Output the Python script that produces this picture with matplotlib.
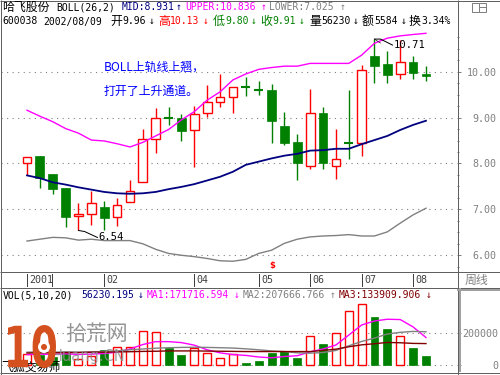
import matplotlib
matplotlib.use('Agg')
import matplotlib.pyplot as plt
import numpy as np
from matplotlib.patches import Rectangle, PathPatch
from matplotlib.textpath import TextPath
from matplotlib.font_manager import FontProperties
from matplotlib.transforms import Affine2D, blended_transform_factory
from matplotlib.ticker import MultipleLocator, FixedLocator

# ---------------- data ----------------
opens  = [8.00, 8.17, 7.76, 7.47, 6.85, 6.91, 7.05, 6.83, 7.16, 7.59, 8.54, 9.00, 8.98, 8.72, 9.09, 9.33,
          9.44, 9.66, 9.59, 9.60, 8.82, 8.47, 7.94, 9.10, 7.94, 8.45, 8.45, 10.34, 10.17, 9.94, 10.20, 9.96]
closes = [8.15, 7.69, 7.44, 6.83, 6.90, 7.14, 6.82, 7.10, 7.40, 8.53, 9.00, 9.00, 8.71, 9.07, 9.33, 9.44,
          9.66, 9.66, 9.59, 8.93, 8.45, 8.02, 9.10, 8.00, 8.10, 8.45, 10.03, 10.13, 9.93, 10.20, 9.98, 9.91]
highs  = [8.15, 8.17, 7.76, 7.47, 7.13, 7.39, 7.19, 7.24, 7.64, 8.75, 9.20, 9.22, 9.07, 9.26, 9.72, 9.95,
          9.66, 9.88, 9.80, 9.73, 9.13, 8.64, 9.62, 9.23, 8.75, 9.60, 10.15, 10.71, 10.45, 10.70, 10.34, 10.13]
lows   = [7.75, 7.47, 7.33, 6.62, 6.54, 6.67, 6.56, 6.64, 7.16, 7.59, 8.22, 8.83, 8.50, 7.92, 9.02, 9.24,
          9.11, 9.46, 9.49, 8.44, 8.40, 7.63, 7.87, 7.89, 7.67, 8.09, 8.16, 9.76, 9.76, 9.83, 9.83, 9.80]

boll_upper = [9.16, 9.03, 8.91, 8.76, 8.66, 8.51, 8.49, 8.43, 8.36, 8.46, 8.60, 8.74, 8.95, 9.13, 9.38, 9.56,
              9.82, 9.95, 10.05, 10.09, 10.12, 10.12, 10.18, 10.18, 10.18, 10.18, 10.36, 10.62, 10.73, 10.78, 10.81, 10.836]
boll_mid   = [7.74, 7.68, 7.59, 7.54, 7.48, 7.43, 7.38, 7.35, 7.34, 7.35, 7.38, 7.44, 7.49, 7.55, 7.63, 7.71,
              7.82, 7.97, 8.04, 8.11, 8.17, 8.21, 8.28, 8.29, 8.32, 8.32, 8.42, 8.51, 8.60, 8.73, 8.84, 8.931]
boll_lower = [6.31, 6.35, 6.39, 6.38, 6.33, 6.35, 6.32, 6.32, 6.32, 6.25, 6.13, 6.04, 6.00, 5.97, 5.93, 5.88,
              5.87, 5.91, 6.04, 6.11, 6.26, 6.35, 6.40, 6.42, 6.43, 6.45, 6.42, 6.42, 6.51, 6.70, 6.88, 7.025]

vols = [70000, 60000, 50000, 75000, 40000, 55000, 95000, 114000, 112000, 212000, 204000, 108000, 62000, 107000,
        77000, 41000, 70000, 11000, 25000, 76000, 85000, 45000, 180000, 131000, 199000, 336000, 380000, 298000,
        226000, 179000, 106000, 56230]
vol_ma1 = [65000, 68000, 66000, 70000, 66000, 68000, 72000, 80000, 100000, 128000, 146000, 146000, 140000, 124000,
           95000, 76000, 65000, 60000, 50000, 45000, 53000, 58000, 82000, 100000, 125000, 187000, 250000, 275000,
           286000, 284000, 238000, 171717]
vol_ma2 = [80000, 82000, 80000, 82000, 80000, 82000, 85000, 88000, 95000, 100000, 105000, 108000, 110000, 111000,
           110000, 108000, 106000, 101000, 95000, 88000, 84000, 76000, 74000, 78000, 91000, 120000, 147000, 168000,
           194000, 204000, 210000, 207667]
vol_ma3 = [75000, 76000, 76000, 78000, 78000, 80000, 80000, 82000, 83000, 85000, 86000, 88000, 88000, 88000,
           87000, 86000, 85000, 84000, 84000, 84000, 84000, 84000, 84000, 91000, 99000, 114000, 126000, 133000,
           141000, 139000, 135000, 133910]

price_ticks = [6, 7, 8, 9, 10]
vol_ticks = [0, 200000]
time_labels = ['2001', '02', '04', '05', '06', '07', '08']
time_label_idx = [0, 6, 13, 18, 22, 26, 30]

# ---------------- style ----------------
W, H = 500, 375
RED = '#ff0000'
GREEN = '#008000'
NAVY = '#000080'
MAG = '#ff00ff'
GRAY = '#808080'
DRED = '#800000'
MONO = ['DejaVu Sans Mono', 'Noto Sans CJK SC']
CJK = ['Noto Sans CJK SC', 'DejaVu Sans']
MS = 7.0   # mono size
CS = 8.6   # cjk size
PX = 0.72  # one pixel in points

fig = plt.figure(figsize=(W / 100, H / 100), dpi=100)
fig.patch.set_facecolor('white')

step = 12.87
x0px = 27.0
xl = ((1 - x0px) / step, (457 - x0px) / step)

# ---------------- main price panel ----------------
ax = fig.add_axes([1 / W, 1 - 270 / H, 456 / W, 240 / H])
ppu = 45.9
ax.set_xlim(*xl)
ax.set_ylim(10 - (270 - 71.67) / ppu, 10 + (71.67 - 30) / ppu)
for s in ax.spines.values():
    s.set_visible(False)
ax.set_xticks([])
ax.yaxis.tick_right()
ax.yaxis.set_major_locator(FixedLocator(price_ticks))
ax.yaxis.set_minor_locator(MultipleLocator(0.25))
ax.set_yticklabels([f'{v:.2f}' for v in price_ticks])
ax.tick_params(axis='y', which='major', length=3, width=PX, color=GRAY, direction='out',
               pad=25.5, labelsize=7.2, labelcolor=GRAY)
ax.tick_params(axis='y', which='minor', length=1.5, width=PX, color=GRAY, direction='out')
for lbl in ax.get_yticklabels():
    lbl.set_horizontalalignment('right')
    lbl.set_family(MONO)
for v in price_ticks:
    ax.axhline(v, color=GRAY, lw=0.8, ls=(0, (1, 4)), zorder=1)

n = len(opens)
xs = np.arange(n)
bw = 0.68
for i in range(n):
    o, c, h, l = opens[i], closes[i], highs[i], lows[i]
    if c > o:
        ax.add_patch(Rectangle((i - bw / 2, o), bw, c - o, facecolor='white', edgecolor=RED,
                               lw=1.0, zorder=3))
        if h > c:
            ax.vlines(i, c, h, color=RED, lw=1.0, zorder=3)
        if l < o:
            ax.vlines(i, l, o, color=RED, lw=1.0, zorder=3)
    elif c < o:
        ax.vlines(i, l, h, color=GREEN, lw=1.0, zorder=2)
        ax.add_patch(Rectangle((i - bw / 2, c), bw, o - c, facecolor=GREEN, edgecolor=GREEN,
                               lw=0.5, zorder=3))
    else:
        ax.vlines(i, l, h, color=GREEN, lw=1.0, zorder=2)
        ax.hlines(c, i - bw / 2, i + bw / 2, color=GREEN, lw=1.5, zorder=3)

ax.plot(xs, boll_upper, color=MAG, lw=1.0, zorder=4)
ax.plot(xs, boll_mid, color=NAVY, lw=1.3, zorder=4)
ax.plot(xs, boll_lower, color=GRAY, lw=1.0, zorder=4)

# ---------------- volume panel ----------------
axv = fig.add_axes([1 / W, 1 - 372 / H, 456 / W, 84 / H])
vpp = 200000 / 32.0
axv.set_xlim(*xl)
axv.set_ylim(-(372 - 365) * vpp, (365 - 288) * vpp)
for s in axv.spines.values():
    s.set_visible(False)
axv.set_xticks([])
axv.yaxis.tick_right()
axv.yaxis.set_major_locator(FixedLocator(vol_ticks))
axv.set_yticklabels([f'{v:d}' for v in vol_ticks])
axv.tick_params(axis='y', which='major', length=3, width=PX, color=GRAY, direction='out',
                pad=26.5, labelsize=7.2, labelcolor=GRAY)
for lbl in axv.get_yticklabels():
    lbl.set_horizontalalignment('right')
    lbl.set_family(MONO)
for v in vol_ticks:
    axv.axhline(v, color=GRAY, lw=0.8, ls=(0, (1, 4)), zorder=1)

vbw = 0.62
for i in range(n):
    up = closes[i] > opens[i] or (closes[i] == opens[i] and i > 0 and closes[i] > closes[i - 1])
    if up:
        axv.add_patch(Rectangle((i - vbw / 2, 0), vbw, vols[i], facecolor='white', edgecolor=RED,
                                lw=1.0, zorder=3))
    else:
        axv.add_patch(Rectangle((i - vbw / 2, 0), vbw, vols[i], facecolor=GREEN, edgecolor=GREEN,
                                lw=0.5, zorder=3))
axv.plot(xs, vol_ma1, color=MAG, lw=1.0, zorder=4)
axv.plot(xs, vol_ma2, color=GRAY, lw=1.0, zorder=4)
axv.plot(xs, vol_ma3, color=DRED, lw=1.0, zorder=4)

# ---------------- overlay in pixel coordinates ----------------
ov = fig.add_axes([0, 0, 1, 1], zorder=10)
ov.set_xlim(0, W)
ov.set_ylim(H, 0)
ov.axis('off')


def hline(y, x1=0, x2=W, color=GRAY, lw=1.0):
    ov.plot([x1, x2], [y, y], color=color, lw=lw * PX, solid_capstyle='butt')


def vline(x, y1=0, y2=H, color=GRAY, lw=1.0):
    ov.plot([x, x], [y1, y2], color=color, lw=lw * PX, solid_capstyle='butt')


# frame
hline(0.5, color='#606060')
hline(374.5, color='#606060')
vline(0.5, color='#606060')
vline(499.5, color='#606060')
vline(457.5, color='#606060')
hline(271.5, color='#606060')
hline(287.5, color='#606060')
hline(372.5, color='#606060')
vline(459.5, 288, 372, color='#a0a0a0', lw=2)
hline(290, 457, 500, color='#a0a0a0', lw=2)

# top-right icon
ov.add_patch(Rectangle((472, 2.5), 14, 9, fill=False, edgecolor=GRAY, lw=PX))
vline(479, 2.5, 11.5)
hline(6.5, 479, 486)


def seg(x, y, s, color='black', cjk=False, size=None):
    if cjk:
        ov.text(x, y, s, color=color, family=CJK, fontsize=size or CS, ha='left', va='center')
    else:
        ov.text(x, y, s, color=color, family=MONO, fontsize=size or MS, ha='left', va='center')


# header line 1
y1 = 7.5
seg(2, y1, '哈飞股份', cjk=True)
seg(56, y1, 'BOLL(26,2)')
seg(122, y1, 'MID:8.931', NAVY)
seg(176, y1, '↑', NAVY)
seg(185, y1, 'UPPER:10.836', MAG)
seg(261, y1, '↑', MAG)
seg(269, y1, 'LOWER:7.025', GRAY)
seg(340, y1, '↑', GRAY)
# header line 2
y2 = 21.5
seg(2, y2, '600038')
seg(43, y2, '2002/08/09')
seg(110, y2, '开', cjk=True)
seg(122, y2, '9.96')
seg(149, y2, '↓')
seg(158, y2, '高', RED, cjk=True)
seg(170, y2, '10.13', RED)
seg(203, y2, '↓', RED)
seg(213, y2, '低', GREEN, cjk=True)
seg(225, y2, '9.80', GREEN)
seg(251, y2, '↓', GREEN)
seg(260, y2, '收', GREEN, cjk=True)
seg(272, y2, '9.91', GREEN)
seg(299, y2, '↓', GREEN)
seg(309, y2, '量', cjk=True)
seg(321, y2, '56230')
seg(353, y2, '↓')
seg(362, y2, '额', cjk=True)
seg(374, y2, '5584')
seg(401, y2, '↓')
seg(409, y2, '换', cjk=True)
seg(421, y2, '3.34%')

# volume header
yv = 295.5
seg(3, yv, 'VOL(5,10,20)')
seg(81, yv, '56230.195', NAVY)
seg(138, yv, '↓', NAVY)
seg(147, yv, 'MA1:171716.594', MAG)
seg(234, yv, '↓', MAG)
seg(243, yv, 'MA2:207666.766', GRAY)
seg(330, yv, '↑', GRAY)
seg(339, yv, 'MA3:133909.906', DRED)
seg(426, yv, '↓', DRED)

# time axis row
tb = blended_transform_factory(ax.transData, ov.transData)
for idx, lab in zip(time_label_idx, time_labels):
    ov.plot([idx, idx], [274, 286], color='#404040', lw=PX, transform=tb)
    ov.text(idx + 2.5 / step, 280, lab, transform=tb, color='#404040', family=MONO, fontsize=7.2,
            ha='left', va='center')
ov.plot([time_label_idx[0] + 25 / step] * 2, [274, 286], color='#404040', lw=PX, transform=tb)
seg(465, 280, '周线', GRAY, cjk=True)

# red marker
ov.text(272, 265.5, '$', color=RED, family='DejaVu Sans', fontsize=6, fontweight='bold',
        ha='center', va='center')

# annotations
ov.text(104, 67, 'BOLL上轨线上翘，', color='#0000ff', family=CJK, fontsize=CS, ha='left', va='center')
ov.text(104, 91, '打开了上升通道。', color='#0000ff', family=CJK, fontsize=CS, ha='left', va='center')


def to_px(a, x, y):
    d = a.transData.transform((x, y))
    return d[0], H - d[1]


imin = int(np.argmin(lows))
mx, my = to_px(ax, imin, lows[imin])
ov.plot([mx, mx + 6, mx + 19], [my, my + 1, my + 7], color='black', lw=PX)
ov.text(mx + 20, my + 6.5, f'{lows[imin]:.2f}', color='black', family=MONO, fontsize=7.6,
        ha='left', va='center')

imax = int(np.argmax(highs))
hx, hy = to_px(ax, imax, highs[imax])
ov.plot([hx, hx + 6, hx + 18], [hy, hy, hy + 6], color='black', lw=PX)
ov.plot([hx, hx + 6], [hy, hy + 4], color='black', lw=PX * 0.6)
ov.text(hx + 19, hy + 5.5, f'{highs[imax]:.2f}', color='black', family=MONO, fontsize=7.6,
        ha='left', va='center')

# watermark
tp = TextPath((0, 0), '10', size=40, prop=FontProperties(family='DejaVu Sans', weight='bold'))
ext = tp.get_extents()
tr = Affine2D().translate(-ext.x0, -ext.y0).scale(48 / ext.width, -43 / ext.height).translate(8, 368)
ov.add_patch(PathPatch(tp, facecolor='#d4501e', edgecolor='none', transform=tr + ov.transData, zorder=5))
ov.add_patch(plt.Circle((44, 347), 6, facecolor='white', edgecolor='none', zorder=6))
ov.add_patch(plt.Circle((44, 347), 3, facecolor='#d4501e', edgecolor='none', zorder=7))
ov.text(65, 334, '拾荒网', color='#8a8a8a', family=CJK, fontsize=15, ha='left', va='center', alpha=0.9)
ov.text(52, 357, 'Huang.CN', color='#909090', family='DejaVu Sans', fontsize=10.5, ha='left',
        va='center', alpha=0.85)
ov.text(1, 367, '飞狐交易师', color='black', family=CJK, fontsize=CS, ha='left', va='center', zorder=4)

fig.savefig('out.png', dpi=100, facecolor='white')
